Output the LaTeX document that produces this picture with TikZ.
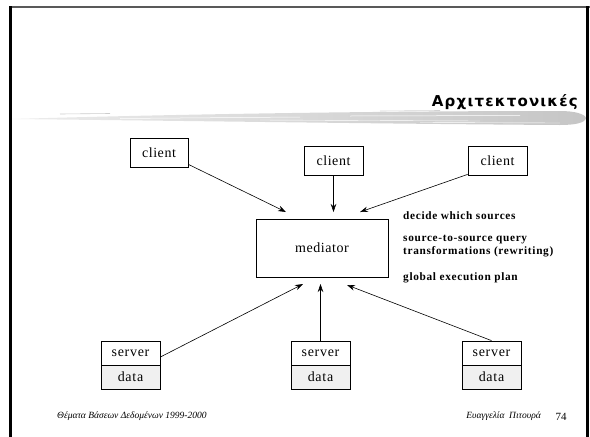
\documentclass[tikz,border=0pt]{standalone}
\usepackage{fontspec}
\setmainfont{Liberation Serif}
\newfontfamily\titlefont{DejaVu Sans}
\usetikzlibrary{arrows.meta,calc}
\begin{document}
\begin{tikzpicture}[x=1pt,y=-1pt,
  box/.style={draw=black,line width=0.8pt,inner sep=0pt,minimum width=58pt,minimum height=29pt,
    font=\fontsize{14}{15}\selectfont\addfontfeatures{LetterSpace=4}},
  cell/.style={draw=black,line width=0.8pt,inner sep=0pt,minimum width=59pt,minimum height=24pt,
    font=\fontsize{14}{15}\selectfont\addfontfeatures{LetterSpace=5}},
  datacell/.style={cell,fill=gray!12},
  conn/.style={-{Stealth[length=8pt,width=5.5pt]},line width=0.6pt},
  note/.style={anchor=west,align=left,inner sep=0pt,
    font=\fontsize{11.3}{13}\selectfont\bfseries\addfontfeatures{LetterSpace=6}},
  foot/.style={inner sep=0pt,font=\fontsize{9.5}{11}\selectfont\itshape}
]
\useasboundingbox (0,0) rectangle (590,437);
% frame
\draw[line width=2pt,gray!70!black] (10,7) -- (590,7);
\draw[line width=2.2pt,black] (10.5,6) -- (10.5,437);
\draw[line width=2.2pt,black] (587.5,6) -- (587.5,437);
% brush stroke
\shade[left color=gray!15,right color=gray!45]
  (12,119) .. controls (150,115) and (350,111) .. (560,111)
  .. controls (575,111) and (585,114) .. (586,118)
  .. controls (585,123) and (575,125) .. (560,125)
  .. controls (400,124) and (200,121) .. (12,119) -- cycle;
\draw[white,line width=0.5pt] (120,118.5) -- (300,117);
\draw[white,line width=0.5pt] (350,116) -- (520,115.5);
\draw[white,line width=0.4pt] (260,120) -- (480,121);
\draw[white,line width=0.4pt] (420,122.5) -- (560,123);
\draw[gray!40,line width=0.6pt] (60,114) -- (110,113.5);
\draw[gray!35,line width=0.6pt] (380,111) -- (440,110.5);
% title
\node[anchor=east,inner sep=0pt,font=\titlefont\bfseries\fontsize{15}{17}\selectfont\addfontfeatures{LetterSpace=8}] (title) at (578,102) {Αρχιτεκτονικές};
% clients
\node[box] (c1) at (159,152.5) {client};
\node[box,minimum width=59pt] (c2) at (333.5,160.5) {client};
\node[box,minimum width=59pt] (c3) at (497.5,160.5) {client};
% mediator
\node[box,minimum width=132pt,minimum height=58pt] (med) at (322,248) {mediator};
% servers
\node[cell] (s1) at (130.5,353) {server};
\node[datacell] (d1) at (130.5,377) {data};
\node[cell] (s2) at (320.5,353) {server};
\node[datacell] (d2) at (320.5,377) {data};
\node[cell] (s3) at (491.5,353) {server};
\node[datacell] (d3) at (491.5,377) {data};
% arrow tips
\coordinate (t1) at (286,212);
\coordinate (t2) at (333.5,212);
\coordinate (t3) at (360,212);
\coordinate (b1) at (303,284);
\coordinate (b2) at (320.5,284);
\coordinate (b3) at (347,285);
\draw[conn] ($(c1.south east)+(0,-3)$) -- (t1);
\draw[conn] (c2.south) -- (t2);
\draw[conn] ($(c3.south west)+(0,-1)$) -- (t3);
\draw[conn] ($(s1.east)+(0,4)$) -- (b1);
\draw[conn] (s2.north) -- (b2);
\draw[conn] (s3.north) -- (b3);
% notes
\node[note] (n1) at (403,216) {decide which sources};
\node[note] (n2) at (403,246.5) {source-to-source query\\transformations (rewriting)};
\node[note] (n3) at (403,278) {global execution plan};
% footer
\node[foot,anchor=west] (f1) at (57,416) {Θέματα Βάσεων Δεδομένων 1999-2000};
\node[foot,anchor=east] (f2) at (541,416) {Ευαγγελία\ \ Πιτουρά};
\node[inner sep=0pt,font=\fontsize{11}{12}\selectfont] (pg) at (561,416.5) {74};
\end{tikzpicture}
\end{document}
